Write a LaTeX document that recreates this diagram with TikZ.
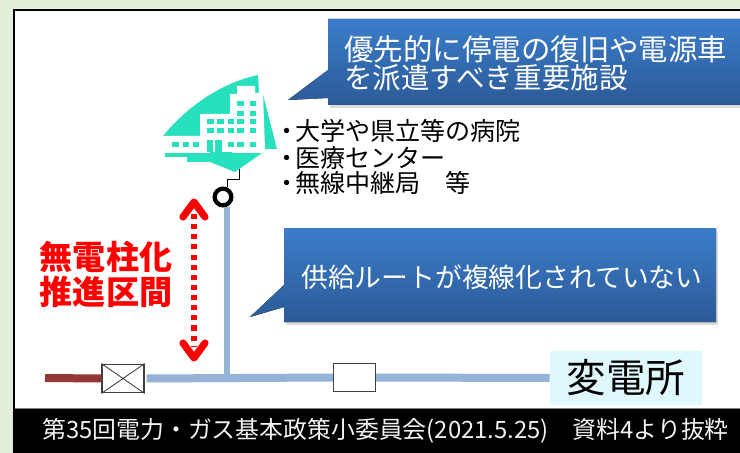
\documentclass[tikz,border=0pt]{standalone}
\usepackage{fontspec}
\setmainfont{Noto Sans CJK JP}
\usetikzlibrary{arrows.meta,calc}
\definecolor{pagegreen}{HTML}{E2EFDA}
\definecolor{teal}{HTML}{26E0BE}
\definecolor{wire}{HTML}{95B3D7}
\definecolor{darkwire}{HTML}{953735}
\definecolor{calltop}{HTML}{3B7DCB}
\definecolor{callbot}{HTML}{2C5A96}
\definecolor{subst}{HTML}{DFF8FC}
\tikzset{
  callout/.style={top color=calltop,bottom color=callbot,draw=none},
  shadowc/.style={fill=black!14,draw=none},
  calltext/.style={text=white,anchor=west,inner sep=0pt},
  listtext/.style={text=black,anchor=west,inner sep=0pt,font=\fontsize{18.8}{22}\selectfont},
  redtext/.style={text=red,anchor=center,inner sep=0pt,font=\fontsize{24.8}{30}\selectfont\bfseries},
  wireline/.style={draw=wire,line width=6pt},
  stemline/.style={draw=wire,line width=4.5pt},
  swbox/.style={draw=black!75,fill=white,line width=.9pt,minimum width=31.5pt,minimum height=21.5pt,inner sep=0pt},
  redhead/.style={draw=red,line width=5.4pt,line cap=round,line join=round},
  reddots/.style={draw=red,line width=4.2pt,dash pattern=on 3.8pt off 3.8pt},
  tealfill/.style={fill=teal,draw=none},
  win/.style={fill=teal,draw=none}
}
\newcommand{\winbox}[2]{\fill[win] (#1,#2) rectangle ++(6.5,5);}
\newcommand{\listdot}{\llap{・\kern-3pt}}
\begin{document}
\begin{tikzpicture}[x=0.75pt,y=-0.75pt]
\useasboundingbox (0,0) rectangle (740,453);
\fill[pagegreen] (0,0) rectangle (740,453);
\fill[white] (15,10) rectangle (740,408);
\draw[black,line width=1.6pt] (14,453) -- (14,10) -- (740,10);
% callout 1
\fill[shadowc] (330,23) -- (740,23) -- (740,108) -- (330,108) -- cycle;
\fill[callout] (328,19) -- (740,19) -- (740,105) -- (328,105) -- (328,98) -- (288,100) -- (328,70) -- cycle;
\node[calltext,font=\fontsize{22.1}{26}\selectfont] (c1a) at (344,49) {優先的に停電の復旧や電源車};
\node[calltext,font=\fontsize{21.4}{26}\selectfont] (c1b) at (344,78) {を派遣すべき重要施設};
% callout 2
\fill[shadowc] (286,231) -- (718,231) -- (718,325) -- (286,325) -- cycle;
\fill[callout] (284,228) -- (716,228) -- (716,322) -- (284,322) -- (284,307) -- (250,317) -- (284,285) -- cycle;
\node[calltext,font=\fontsize{20.1}{24}\selectfont] (c2) at (301,277) {供給ルートが複線化されていない};
% building
\fill[tealfill] (163,136) .. controls (190,103) and (225,82) .. (258,75) -- (277,149) -- (265,149) -- (262,153) -- (235,172) -- (210,162) -- (187,162) -- (187,157) -- (165,157) -- (165,153) -- (200,149) -- (163,149) -- cycle;
\fill[white] (163,136) -- (200,136) -- (200,114) -- (230,114) -- (230,94) -- (237,94) -- (237,86) -- (255,86) -- (255,93) -- (263,93) -- (265,149) -- (265,153) -- (165,153) -- (150,150) -- cycle;
\fill[white] (258,72) -- (264,72) -- (263,102) -- (259,93) -- cycle;
\fill[tealfill] (165,153) rectangle (233,157);
\fill[tealfill] (187,158.5) rectangle (233,162);
\fill[tealfill] (207,140) rectangle (213,152);
\fill[tealfill] (215,140) rectangle (222,152);
\fill[tealfill] (210,152) rectangle (232,153.5);
\foreach \x in {237,249.5}{\foreach \y in {101,111,119.5,128.5}{\winbox{\x}{\y}}}
\foreach \x in {207,217,227.5}{\foreach \y in {119.5,128.5}{\winbox{\x}{\y}}}
\foreach \x in {172,182.5,192.5,227.5,237,249.5}{\winbox{\x}{142}}
% wires
\coordinate (w1) at (45,378);
\coordinate (w2) at (227,378);
\coordinate (w3) at (227,207);
\node[draw=black,line width=3.2pt,circle,fill=white,minimum size=12.5pt,inner sep=0pt] (ring) at (223,197) {};
\draw[stemline] (ring.south -| w3) -- (w2);
\node[fill=subst,minimum width=114pt,minimum height=40.5pt,inner sep=0pt,font=\fontsize{29.6}{34}\selectfont] (henden) at (626,378) {変電所};
\node[swbox] (sw) at (123,378.5) {};
\node[swbox,minimum height=21.5pt] (bx) at (354.5,377.5) {};
\draw[wireline] (sw.east) ++(2,0) coordinate (swe) -- (bx.west);
\draw[wireline] (bx.east) -- (henden.west);
\draw[draw=darkwire,line width=6pt] (w1) -- (sw.west);
\draw[black!80,line width=.6pt] (sw.north west) -- (sw.south east) (sw.north east) -- (sw.south west);
\coordinate (t1) at (239,169);
\coordinate (t2) at (239,179);
\coordinate (t3) at (227,179);
\draw[black,line width=.7pt] (t1) -- (t2) -- (t3) -- (t3 |- ring.north);
% list
\node[listtext] (l1) at (295,131) {\listdot 大学や県立等の病院};
\node[listtext] (l2) at (295,158) {\listdot 医療センター};
\node[listtext] (l3) at (295,183) {\listdot 無線中継局　等};
% red label
\node[redtext] (r1) at (106,257) {無電柱化};
\node[redtext] (r2) at (106,292) {推進区間};
% red arrow
\coordinate (at) at (194,202);
\coordinate (ab) at (194,358);
\draw[reddots] ($(at)+(0,12)$) -- ($(ab)+(0,-12)$);
\draw[redhead] (183,217) -- (at) -- (205,217);
\draw[redhead] (183,343) -- (ab) -- (205,343);
% footer
\fill[black] (13,408) rectangle (740,453);
\draw[black!50,line width=.5pt] (15,408) -- (740,408);
\node[text=white!95!black,anchor=west,inner sep=0pt,font=\fontsize{17.9}{20}\selectfont] (foot) at (42,431) {第35回電力・ガス基本政策小委員会(2021.5.25)　資料4より抜粋};
\end{tikzpicture}
\end{document}
